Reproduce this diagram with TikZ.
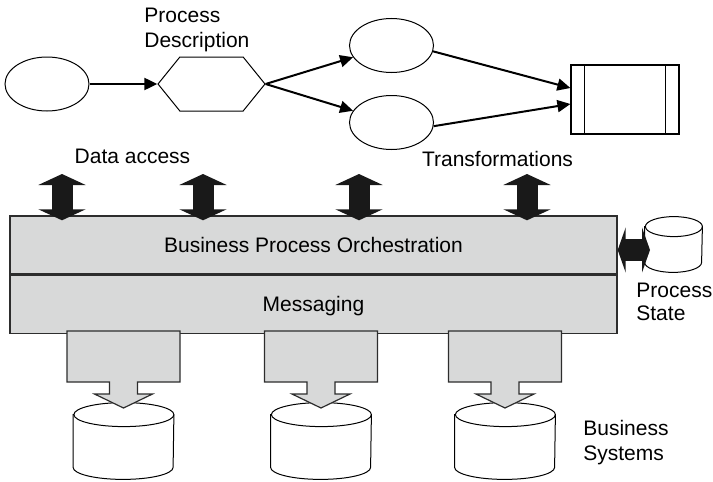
\documentclass[tikz,border=0pt]{standalone}
\usepackage{fontspec}
\setmainfont{Liberation Sans}
\usetikzlibrary{arrows.meta, positioning, shapes.geometric, shapes.symbols}

\definecolor{layergray}{RGB}{216,217,217}
\definecolor{edgegray}{RGB}{45,45,45}

\begin{document}
\begin{tikzpicture}[
            x = 0.5pt, y = -0.5pt,
            font = \fontsize{10.5}{12.5}\selectfont,
            state/.style = {
                ellipse,
                draw,
                line width     = 0.5pt,
                inner sep      = 0pt,
                minimum width  = 42pt,
                minimum height = 27pt
            },
            procbox/.style = {
                signal,
                signal to            = west and east,
                signal pointer angle = 102,
                draw,
                line width     = 0.5pt,
                inner sep      = 0pt,
                minimum width  = 53.5pt,
                minimum height = 27pt
            },
            outbox/.style = {
                rectangle,
                draw,
                line width     = 0.6pt,
                minimum width  = 54pt,
                minimum height = 34.5pt
            },
            layer/.style = {
                rectangle,
                draw        = edgegray,
                fill        = layergray,
                line width  = 0.7pt,
                inner sep   = 0pt,
                text height = 7.5pt,
                text depth  = 0pt,
                minimum width  = 303.5pt,
                minimum height = 29pt
            },
            dbbox/.style = {rectangle, inner sep = 0pt},
            dbline/.style = {draw, fill = white, line width = 0.5pt},
            note/.style = {inner sep = 0pt, align = left, anchor = base west},
            flow/.style = {-{Triangle[length=6.5pt, width=6pt]}, line width = 1pt},
            access/.style = {
                {Triangle[length=5.5pt, width=23.5pt]}-{Triangle[length=5.5pt, width=23.5pt]},
                draw = black!90, line width = 10.5pt
            },
            feed/.style = {draw = edgegray, fill = layergray, line width = 0.6pt}
        ]
    \useasboundingbox (0,0) rectangle (713,482);

    % process description
    \node[state]   (input)   at (47,84)      {};
    \node[procbox] (process) at (211.5,84)   {};
    \node[state]   (xformA)  at (391.5,45.5)  {};
    \node[state]   (xformB)  at (391.5,122.5) {};
    \node[outbox]  (output)  at (625,99.5)    {};
    \draw[line width=0.6pt] ([xshift=7pt]output.north west) -- ([xshift=7pt]output.south west);
    \draw[line width=0.6pt] ([xshift=-7pt]output.north east) -- ([xshift=-7pt]output.south east);

    \draw[flow] (input) -- (process);
    \draw[flow] (process.east) -- (xformA);
    \draw[flow] (process.east) -- (xformB);
    \draw[flow] (xformA.-8) -- ([yshift=5.75pt]output.west);
    \draw[flow] (xformB.-5) -- ([yshift=-2.25pt]output.west);

    \node[note] (desclabel) at (144,47) {Process\\Description};
    \node[inner sep=0pt, anchor=base] (datalabel)  at (132.5,163) {Data access};
    \node[inner sep=0pt, anchor=base] (translabel) at (497.5,166) {Transformations};

    % layers
    \node[layer] (bpo) at (313.5,245) {Business Process Orchestration};
    \node[layer, below = 0pt of bpo] (msg) {Messaging};

    % databases
    \node[dbbox, minimum width=50pt, minimum height=38pt]     (sys1) at (123.5,441) {};
    \node[dbbox, minimum width=50pt, minimum height=38pt]     (sys2) at (321,441)   {};
    \node[dbbox, minimum width=50pt, minimum height=38pt]     (sys3) at (505,441)   {};
    \node[dbbox, minimum width=28.5pt, minimum height=27.5pt] (procstate) at (673.5,244.5) {};
    \foreach \n/\w/\r in {sys1/25pt/6pt, sys2/25pt/6pt, sys3/25pt/6pt, procstate/14.25pt/5pt} {
        \draw[dbline] ([yshift=-\r]\n.north west) -- ([yshift=\r]\n.south west)
            arc[start angle=180, end angle=360, x radius=\w, y radius=\r]
            -- ([yshift=-\r]\n.north east)
            arc[start angle=0, end angle=180, x radius=\w, y radius=\r] -- cycle;
        \draw[line width=0.5pt] ([yshift=-\r]\n.north east)
            arc[start angle=0, end angle=-180, x radius=\w, y radius=\r];
    }

    % business systems
    \foreach \c in {123.5, 321, 505} {
        \draw[feed] (\c-56.5,331) -- (\c+56.5,331) -- (\c+56.5,382) -- (\c+14,382)
            -- (\c+14,394) -- (\c+29,394) -- (\c,408) -- (\c-29,394) -- (\c-14,394)
            -- (\c-14,382) -- (\c-56.5,382) -- cycle;
    }
    \node[note] (syslabel) at (583,460) {Business\\Systems};

    % process state
    \coordinate (statelink) at (650,250);
    \draw[access, line width=11pt,
          {Triangle[length=4pt, width=22.5pt]}-{Triangle[length=4pt, width=22.5pt]}]
        ([yshift=-2.5pt]bpo.east) -- (statelink);
    \node[note, font=\fontsize{10.5}{11.5}\selectfont] (statelabel) at (636,320) {Process\\State};

    % data access
    \foreach \x [count=\i] in {62, 203, 359, 527} {
        \coordinate (acc\i) at (\x,174);
        \draw[access] (acc\i) -- ([yshift=-2.5pt]acc\i |- bpo.north);
    }
\end{tikzpicture}
\end{document}
